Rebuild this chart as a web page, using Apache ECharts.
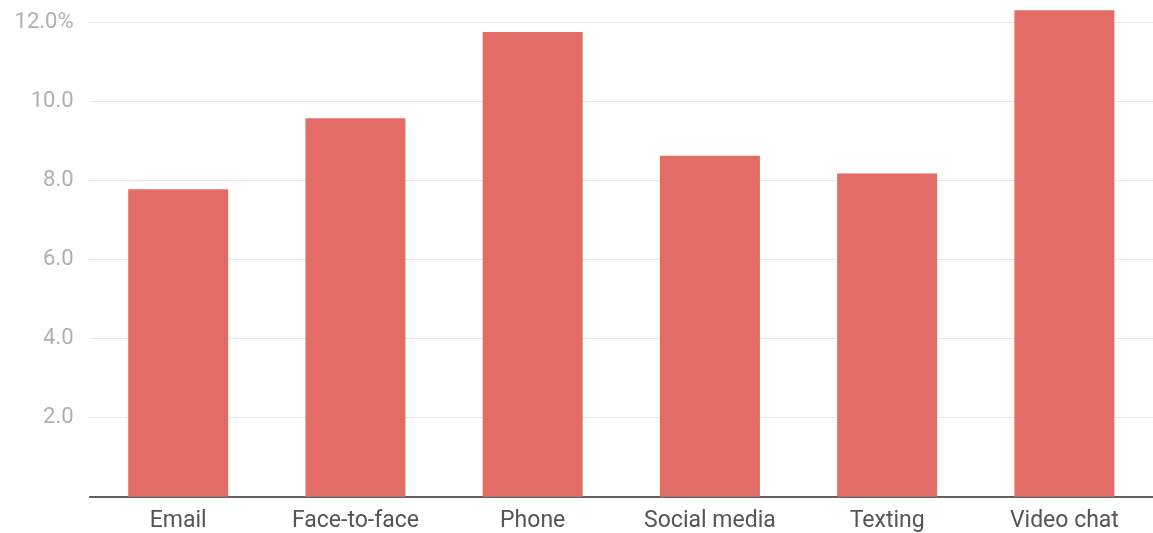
<!DOCTYPE html>
<html>
<head>
<meta charset="utf-8">
<script src="https://cdn.jsdelivr.net/npm/echarts@6/dist/echarts.min.js"></script>
<style>
html,body{margin:0;padding:0;background:#fff;}
#chart{width:1153px;height:533px;}
</style>
</head>
<body>
<div id="chart"></div>
<script>
var categories = ['Email', 'Face-to-face', 'Phone', 'Social media', 'Texting', 'Video chat'];
var values = [7.77, 9.57, 11.75, 8.62, 8.17, 12.30];
var yTicks = [0, 2, 4, 6, 8, 10, 12];

var chart = echarts.init(document.getElementById('chart'));
chart.setOption({
  animation: false,
  grid: { left: 89.6, right: -3.4, top: 22, bottom: 36.3, containLabel: false },
  xAxis: {
    type: 'category',
    data: categories,
    axisLine: { show: true, lineStyle: { color: '#333', width: 1.5 } },
    axisTick: { show: false },
    axisLabel: { color: '#555555', fontFamily: 'Roboto', fontSize: 23, margin: 13 }
  },
  yAxis: {
    type: 'value',
    min: yTicks[0],
    max: yTicks[yTicks.length - 1],
    interval: 2,
    axisLine: { show: false },
    axisTick: { show: false },
    splitLine: { lineStyle: { color: '#e6e6e6', width: 1 } },
    axisLabel: {
      color: '#b0b0b0', fontFamily: 'Roboto', fontSize: 22, margin: 16,
      formatter: function (v) {
        if (v === 0) return '';
        if (v === 12) return v.toFixed(1) + '%';
        return v.toFixed(1);
      }
    }
  },
  series: [{
    type: 'bar',
    data: values,
    barWidth: 100,
    clip: false,
    itemStyle: { color: '#e26d66' }
  }]
});
</script>
</body>
</html>
